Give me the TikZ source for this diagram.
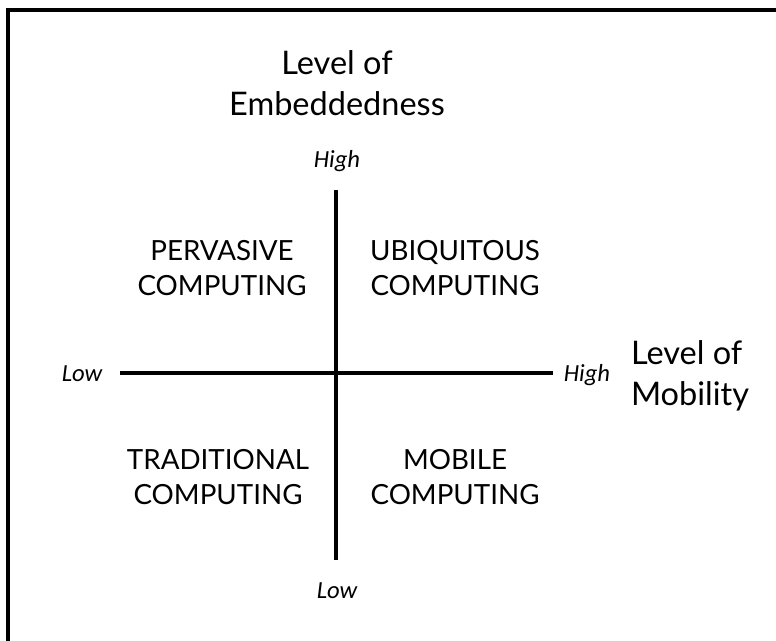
\documentclass[tikz,border=0pt]{standalone}
\usepackage{fontspec}
\setmainfont{Lato}
\newfontfamily\lowhigh{Carlito}
\usepackage{tikz}

\tikzset{quad/.style={align=center,font=\fontsize{15.8}{20}\selectfont},
axislab/.style={font=\lowhigh\itshape\fontsize{14}{16}\selectfont},
title/.style={align=center,font=\fontsize{18.5}{23}\selectfont}}

\begin{document}
\begin{tikzpicture}[x=0.02cm,y=-0.02cm]
\useasboundingbox (0,0) rectangle (776,641);
\draw [line width=1.8pt] (8,641) -- (8,10) -- (776,10);

\coordinate (vtop) at (336,190);\coordinate (vbot) at (336,560);
\coordinate (hleft) at (120,373);\coordinate (hright) at (553,373);
\draw [line width=1.8pt] (vtop) -- (vbot);
\draw [line width=1.8pt] (hleft) -- (hright);

\node[title] (embed) at (337,83) {Level of\\Embeddedness};
\node[title,align=left] (mobil) at (690,376) {Level of\\Mobility};
\node[axislab] (vhigh) at (337,161) {High};
\node[axislab] (vlow) at (337,591) {Low};
\node[axislab] (hlow) at (82,374) {Low};
\node[axislab] (hhigh) at (587,375) {High};

\node[quad] (perv) at (222,268) {PERVASIVE\\COMPUTING};
\node[quad] (ubiq) at (455,268) {UBIQUITOUS\\COMPUTING};
\node[quad] (trad) at (218,477) {TRADITIONAL\\COMPUTING};
\node[quad] (mob) at (455,477) {MOBILE\\COMPUTING};
\end{tikzpicture}
\end{document}
